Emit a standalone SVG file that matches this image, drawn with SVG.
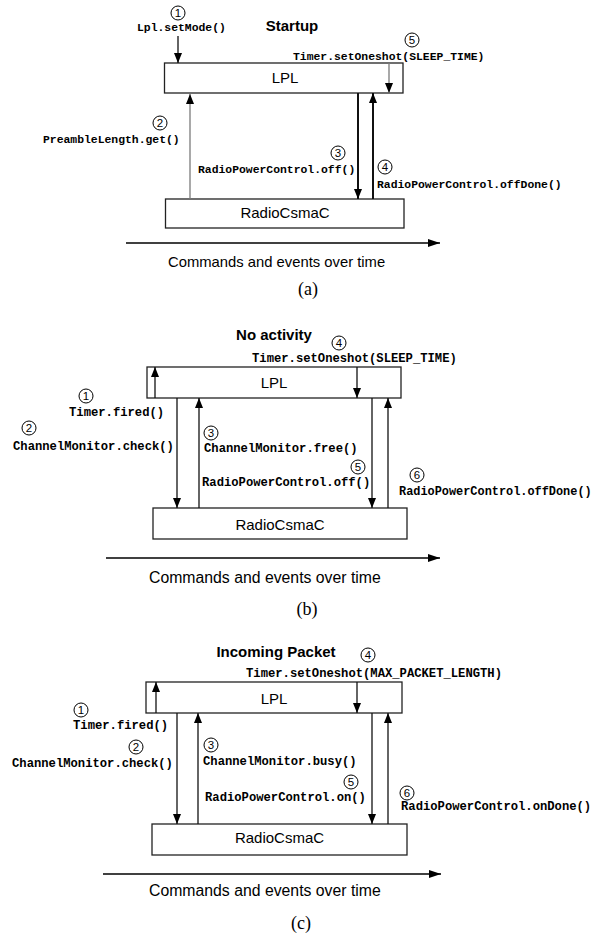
<svg xmlns="http://www.w3.org/2000/svg" width="596" height="942" viewBox="0 0 596 942">
  <style>
    .box { fill: #fff; stroke: #222; stroke-width: 1.3; }
    .name { font-family: "Liberation Sans", Arial, sans-serif; font-size: 15px; fill: #000; text-anchor: middle; }
    .title { font-family: "Liberation Sans", Arial, sans-serif; font-size: 15px; font-weight: bold; fill: #000; text-anchor: middle; }
    .call { font-family: "Liberation Mono", "Courier New", monospace; font-weight: bold; fill: #000; }
    .ca { font-size: 11.4px; }
    .cb { font-size: 12.2px; }
    .num circle { fill: #fff; stroke: #000; stroke-width: 1; }
    .num text { font-family: "Liberation Sans", Arial, sans-serif; font-size: 11.5px; text-anchor: middle; fill: #000; }
    .axis { font-family: "Liberation Sans", Arial, sans-serif; fill: #000; }
    .cap { font-family: "Liberation Serif", "Times New Roman", serif; font-size: 18px; text-anchor: middle; fill: #000; }
    .msg { stroke: #111; stroke-width: 1.3; fill: none; marker-end: url(#head); }
    .gray { stroke: #7a7a7a; }
    .bold { stroke-width: 2; }
    .time { stroke: #000; stroke-width: 1.3; fill: none; marker-end: url(#thead); }
  </style>
  <defs>
    <marker id="head" markerUnits="userSpaceOnUse" markerWidth="10" markerHeight="8" refX="10" refY="4" orient="auto">
      <path d="M0,0 L10,4 L0,8 Z" fill="#000"/>
    </marker>
    <marker id="thead" markerUnits="userSpaceOnUse" markerWidth="12" markerHeight="8" refX="12" refY="4" orient="auto">
      <path d="M0,0 L12,4 L0,8 Z" fill="#000"/>
    </marker>
  </defs>

  <!-- ===== (a) Startup ===== -->
  <text class="title" x="292" y="31">Startup</text>
  <g id="a-lpl">
    <rect class="box" x="164.5" y="63" width="238.5" height="30"/>
    <text class="name" x="285" y="83">LPL</text>
  </g>
  <g id="a-radio">
    <rect class="box" x="165.5" y="199" width="238.5" height="29"/>
    <text class="name" x="285" y="218">RadioCsmaC</text>
  </g>
  <g id="a-connectors">
    <line class="msg" x1="178" y1="36" x2="178" y2="63"/>
    <line class="msg gray" x1="190" y1="199" x2="190" y2="94"/>
    <line class="msg bold" x1="358" y1="93" x2="358" y2="199"/>
    <line class="msg bold" x1="373" y1="199" x2="373" y2="93"/>
    <line class="msg gray" x1="389" y1="63" x2="389" y2="93"/>
    <line class="time" x1="126" y1="243" x2="440" y2="243"/>
  </g>
  <g id="a-labels">
    <g class="num"><circle cx="178" cy="13" r="7"/><text x="178" y="17">1</text></g>
    <text class="call ca" x="137" y="31">Lpl.setMode()</text>
    <g class="num"><circle cx="160" cy="123" r="7"/><text x="160" y="127">2</text></g>
    <text class="call ca" x="43" y="143">PreambleLength.get()</text>
    <g class="num"><circle cx="338" cy="153" r="7"/><text x="338" y="157">3</text></g>
    <text class="call ca" x="198" y="173">RadioPowerControl.off()</text>
    <g class="num"><circle cx="385" cy="167" r="7"/><text x="385" y="171">4</text></g>
    <text class="call ca" x="377" y="188">RadioPowerControl.offDone()</text>
    <g class="num"><circle cx="412" cy="40" r="7"/><text x="412" y="44">5</text></g>
    <text class="call ca" x="293" y="60">Timer.setOneshot(SLEEP_TIME)</text>
    <text class="axis" x="168" y="267" font-size="14.8">Commands and events over time</text>
    <text class="cap" x="308" y="295">(a)</text>
  </g>

  <!-- ===== (b) No activity ===== -->
  <text class="title" x="274" y="340">No activity</text>
  <g id="b-lpl">
    <rect class="box" x="147" y="367" width="254" height="31"/>
    <text class="name" x="274" y="388">LPL</text>
  </g>
  <g id="b-radio">
    <rect class="box" x="153" y="508" width="254" height="31"/>
    <text class="name" x="280" y="530">RadioCsmaC</text>
  </g>
  <g id="b-connectors">
    <line class="msg" x1="155" y1="398" x2="155" y2="367"/>
    <line class="msg" x1="177" y1="398" x2="177" y2="508"/>
    <line class="msg" x1="199" y1="508" x2="199" y2="398"/>
    <line class="msg" x1="357" y1="367" x2="357" y2="398"/>
    <line class="msg" x1="372" y1="398" x2="372" y2="508"/>
    <line class="msg" x1="388" y1="508" x2="388" y2="398"/>
    <line class="time" x1="106" y1="558" x2="440" y2="558"/>
  </g>
  <g id="b-labels">
    <g class="num"><circle cx="86" cy="396" r="7"/><text x="86" y="400">1</text></g>
    <text class="call cb" x="69" y="416">Timer.fired()</text>
    <g class="num"><circle cx="29" cy="428" r="7"/><text x="29" y="432">2</text></g>
    <text class="call cb" x="13" y="450">ChannelMonitor.check()</text>
    <g class="num"><circle cx="211" cy="433" r="7"/><text x="211" y="437">3</text></g>
    <text class="call cb" x="204" y="452">ChannelMonitor.free()</text>
    <g class="num"><circle cx="339" cy="343" r="7"/><text x="339" y="347">4</text></g>
    <text class="call cb" x="252" y="362">Timer.setOneshot(SLEEP_TIME)</text>
    <g class="num"><circle cx="358" cy="467" r="7"/><text x="358" y="471">5</text></g>
    <text class="call cb" x="202" y="486">RadioPowerControl.off()</text>
    <g class="num"><circle cx="417" cy="475" r="7"/><text x="417" y="479">6</text></g>
    <text class="call" x="399" y="495" font-size="11.9px">RadioPowerControl.offDone()</text>
    <text class="axis" x="149" y="583" font-size="15.8">Commands and events over time</text>
    <text class="cap" x="307" y="615">(b)</text>
  </g>

  <!-- ===== (c) Incoming Packet ===== -->
  <text class="title" x="276" y="657">Incoming Packet</text>
  <g id="c-lpl">
    <rect class="box" x="146" y="682" width="256" height="31"/>
    <text class="name" x="274" y="704">LPL</text>
  </g>
  <g id="c-radio">
    <rect class="box" x="152" y="824" width="255" height="31"/>
    <text class="name" x="279.5" y="843">RadioCsmaC</text>
  </g>
  <g id="c-connectors">
    <line class="msg" x1="156" y1="713" x2="156" y2="682"/>
    <line class="msg" x1="177" y1="713" x2="177" y2="824"/>
    <line class="msg" x1="198" y1="824" x2="198" y2="713"/>
    <line class="msg" x1="357" y1="682" x2="357" y2="713"/>
    <line class="msg" x1="372" y1="713" x2="372" y2="824"/>
    <line class="msg" x1="388" y1="824" x2="388" y2="713"/>
    <line class="time" x1="103" y1="874" x2="441" y2="874"/>
  </g>
  <g id="c-labels">
    <g class="num"><circle cx="81" cy="710" r="7"/><text x="81" y="714">1</text></g>
    <text class="call cb" x="73" y="729">Timer.fired()</text>
    <g class="num"><circle cx="136" cy="747" r="7"/><text x="136" y="751">2</text></g>
    <text class="call cb" x="12" y="767">ChannelMonitor.check()</text>
    <g class="num"><circle cx="211" cy="745" r="7"/><text x="211" y="749">3</text></g>
    <text class="call cb" x="203" y="765">ChannelMonitor.busy()</text>
    <g class="num"><circle cx="368" cy="655" r="7"/><text x="368" y="659">4</text></g>
    <text class="call cb" x="246" y="677">Timer.setOneshot(MAX_PACKET_LENGTH)</text>
    <g class="num"><circle cx="351" cy="782" r="7"/><text x="351" y="786">5</text></g>
    <text class="call cb" x="205" y="801">RadioPowerControl.on()</text>
    <g class="num"><circle cx="407" cy="793" r="7"/><text x="407" y="797">6</text></g>
    <text class="call cb" x="401" y="810">RadioPowerControl.onDone()</text>
    <text class="axis" x="149" y="896" font-size="15.8">Commands and events over time</text>
    <text class="cap" x="301" y="929">(c)</text>
  </g>
</svg>
